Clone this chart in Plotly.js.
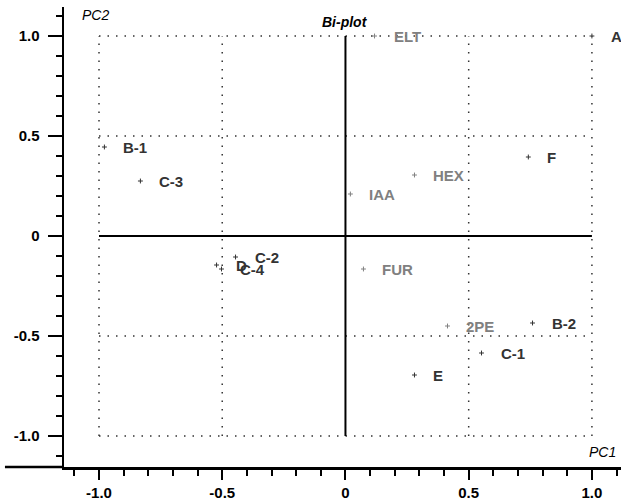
<!DOCTYPE html>
<html><head><meta charset="utf-8">
<script src="https://cdn.plot.ly/plotly-3.0.1.min.js"></script>
<style>html,body{margin:0;padding:0;background:#fff}#chart{width:621px;height:500px}</style>
</head><body><div id="chart"></div>
<script>
// Samples (dark labels)
const sampleLabels = ["A","B-1","C-3","F","C-2","D","C-4","B-2","C-1","E"];
const sampleX = [1.0,-0.978,-0.832,0.742,-0.446,-0.523,-0.503,0.759,0.552,0.280];
const sampleY = [1.0,0.445,0.275,0.395,-0.105,-0.145,-0.165,-0.435,-0.585,-0.695];
// Variables (grey labels)
const varLabels = ["ELT","HEX","IAA","FUR","2PE"];
const varX = [0.118,0.280,0.020,0.073,0.414];
const varY = [1.0,0.305,0.21,-0.165,-0.45];
// Axis ticks
const tickVals = [-1.0,-0.5,0,0.5,1.0];
const tickText = ["-1.0","-0.5","0","0.5","1.0"];
const gridVals = [-1.0,-0.5,0.5,1.0];

const FONT = "Liberation Sans, Arial, sans-serif";
const DARK = "#333333", GREY = "#808080";

const traces = [
  {x: sampleX, y: sampleY, mode: "markers", type: "scatter", hoverinfo: "skip",
   marker: {symbol: "cross-thin", size: 3.5, line: {width: 1, color: DARK}, color: DARK}, cliponaxis: false},
  {x: varX, y: varY, mode: "markers", type: "scatter", hoverinfo: "skip",
   marker: {symbol: "cross-thin", size: 3.5, line: {width: 1, color: GREY}, color: GREY}, cliponaxis: false}
];

const shapes = [];
gridVals.forEach(v => {
  shapes.push({type: "line", xref: "x", yref: "y", x0: v, x1: v, y0: -1, y1: 1,
    line: {color: "#333", width: 1.5, dash: "1.5px,7px"}, layer: "below"});
  shapes.push({type: "line", xref: "x", yref: "y", x0: -1, x1: 1, y0: v, y1: v,
    line: {color: "#333", width: 1.5, dash: "1.5px,7px"}, layer: "below"});
});
shapes.push({type: "line", xref: "x", yref: "y", x0: 0, x1: 0, y0: -1, y1: 1, line: {color: "#000", width: 2}});
shapes.push({type: "line", xref: "x", yref: "y", x0: -1, x1: 1, y0: 0, y1: 0, line: {color: "#000", width: 2}});
// x-axis baseline extends left past the y axis
shapes.push({type: "line", xref: "paper", yref: "paper", x0: -0.106, x1: 0, y0: 0, y1: 0, line: {color: "#000", width: 2.5}});

const annotations = [];
sampleLabels.forEach((t, i) => annotations.push({x: sampleX[i], y: sampleY[i], text: t, showarrow: false,
  xanchor: "left", yanchor: "middle", xshift: 17, font: {family: FONT, size: 15, color: DARK, weight: "bold"}}));
varLabels.forEach((t, i) => annotations.push({x: varX[i], y: varY[i], text: t, showarrow: false,
  xanchor: "left", yanchor: "middle", xshift: 17, font: {family: FONT, size: 15, color: GREY, weight: "bold"}}));
annotations.push({xref: "paper", yref: "paper", x: 0.028, y: 1.0, text: "<i>PC2</i>", showarrow: false,
  xanchor: "left", yanchor: "middle", yshift: -8, font: {family: FONT, size: 14, color: "#000"}});
annotations.push({xref: "x", yref: "paper", x: 0, y: 1.0, text: "<b><i>Bi-plot</i></b>", showarrow: false,
  xanchor: "center", yanchor: "middle", yshift: -15, font: {family: FONT, size: 14, color: "#000"}});
annotations.push({xref: "paper", yref: "paper", x: 0.995, y: 0, text: "<i>PC1</i>", showarrow: false,
  xanchor: "right", yanchor: "middle", yshift: 15, font: {family: FONT, size: 14, color: "#000"}});

const layout = {
  width: 621, height: 500,
  margin: {l: 64, r: 0, t: 7, b: 33, pad: 0},
  paper_bgcolor: "#fff", plot_bgcolor: "#fff",
  showlegend: false,
  xaxis: {range: [-1.142, 1.118], showgrid: false, zeroline: false,
    showline: true, linecolor: "#000", linewidth: 2.5,
    tickmode: "array", tickvals: tickVals, ticktext: tickText,
    ticks: "outside", ticklen: 10, tickwidth: 2, tickcolor: "#000",
    minor: {dtick: 0.1, tick0: 0, ticks: "outside", ticklen: 6, tickwidth: 2, tickcolor: "#000", showgrid: false},
    tickfont: {family: FONT, size: 15, color: "#000", weight: "bold"}},
  yaxis: {range: [-1.155, 1.145], showgrid: false, zeroline: false,
    showline: true, linecolor: "#000", linewidth: 2.5,
    tickmode: "array", tickvals: tickVals, ticktext: tickText,
    ticks: "outside", ticklen: 14, tickwidth: 2, tickcolor: "#000", ticklabelstandoff: 5,
    minor: {dtick: 0.1, tick0: 0, ticks: "outside", ticklen: 6, tickwidth: 2, tickcolor: "#000", showgrid: false},
    tickfont: {family: FONT, size: 15, color: "#000", weight: "bold"}},
  shapes: shapes,
  annotations: annotations
};

Plotly.newPlot("chart", traces, layout, {displayModeBar: false, staticPlot: true});
</script></body></html>
